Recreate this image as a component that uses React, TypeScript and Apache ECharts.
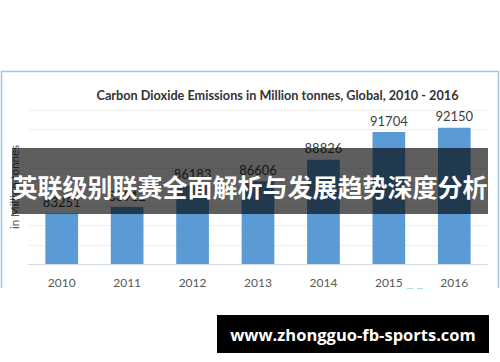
import React, { useEffect, useRef } from "react";
import * as echarts from "echarts";

const years = ["2010", "2011", "2012", "2013", "2014", "2015", "2016"];
const emissions = [83251, 83912, 86183, 86606, 88826, 91704, 92150];
const titleText = "Carbon Dioxide Emissions in Million tonnes, Global, 2010 - 2016";
const yAxisTitle = "in Million tonnes";
const bannerText = "英联级别联赛全面解析与发展趋势深度分析";
const siteText = "www.zhongguo-fb-sports.com";

export default function App() {
  const ref = useRef<HTMLDivElement>(null);
  useEffect(() => {
    if (!ref.current) return;
    const chart = echarts.init(ref.current, null, { renderer: "svg" });
    chart.setOption({
      animation: false,
      backgroundColor: "#ffffff",
      title: {
        text: titleText,
        left: 272.5,
        top: 83,
        textAlign: "center",
        textStyle: { fontFamily: "Lato", fontWeight: "bold", fontSize: 12.7, color: "#333333" },
      },
      grid: { left: 27, right: 13, top: 110, bottom: 98 },
      xAxis: {
        type: "category",
        data: years,
        axisLine: { lineStyle: { color: "#d0dbe6", width: 1 } },
        axisTick: { show: false },
        axisLabel: { color: "#595959", fontFamily: "Lato", fontSize: 12, margin: 12 },
      },
      yAxis: {
        type: "value",
        min: 78000,
        max: 94000,
        interval: 2000,
        name: yAxisTitle,
        nameLocation: "middle",
        nameGap: 9,
        nameTextStyle: { color: "#595959", fontFamily: "Lato", fontSize: 11.5 },
        axisLabel: { show: false },
        axisLine: { show: false },
        axisTick: { show: false },
        splitLine: { lineStyle: { color: "#efefef", width: 1 } },
      },
      series: [
        {
          type: "bar",
          data: emissions,
          barWidth: "50%",
          itemStyle: { color: "#5b9bd5" },
          label: {
            show: true,
            position: "top",
            distance: 5,
            color: "#404040",
            fontFamily: "Lato",
            fontSize: 13,
          },
        },
      ],
      graphic: [
        {
          type: "polyline",
          z: 50,
          shape: { points: [[1.5, 288], [1.5, 71.5], [498.5, 71.5], [498.5, 288]] },
          style: { stroke: "#9fc5e8", lineWidth: 1.5, fill: "none" },
        },
        {
          type: "line",
          z: 50,
          shape: { x1: 407, y1: 288.5, x2: 427, y2: 288.5 },
          style: { stroke: "#a8dbe6", lineWidth: 1, lineDash: [6, 4] },
        },
        {
          type: "rect",
          z: 100,
          shape: { x: 12, y: 148, width: 476, height: 66 },
          style: { fill: "rgba(0,0,0,0.63)" },
        },
        {
          type: "text",
          z: 101,
          x: 250,
          y: 186,
          style: {
            text: bannerText,
            fill: "#ffffff",
            font: "bold 25px 'Noto Sans CJK SC'",
            align: "center",
            verticalAlign: "middle",
          },
        },
        {
          type: "rect",
          z: 100,
          shape: { x: 217, y: 315, width: 272, height: 38 },
          style: { fill: "#000000" },
        },
        {
          type: "text",
          z: 101,
          x: 353,
          y: 334,
          style: {
            text: siteText,
            fill: "#ffffff",
            font: "bold 16.5px 'Open Sans'",
            align: "center",
            verticalAlign: "middle",
          },
        },
      ],
    });
    return () => chart.dispose();
  }, []);
  return (
    <div
      ref={ref}
      style={{ position: "fixed", left: 0, top: 0, width: 500, height: 362 }}
    />
  );
}
